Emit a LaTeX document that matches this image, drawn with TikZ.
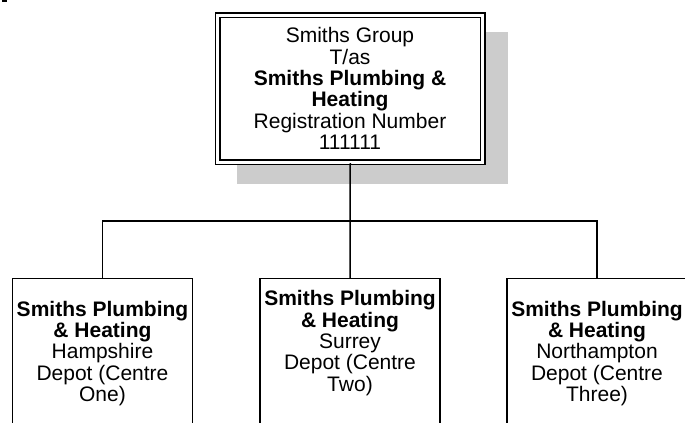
\documentclass[tikz,border=0pt]{standalone}
\usepackage{fontspec}
\setmainfont{Liberation Sans}
\definecolor{shadowgray}{HTML}{CCCCCC}
\begin{document}
\begin{tikzpicture}[x=0.75pt,y=-0.75pt,
  txt/.style={font=\fontsize{15.75}{16.05}\selectfont, align=center, inner sep=0pt},
  childbox/.style={draw, fill=white, line width=1.125pt, minimum width=135pt, minimum height=151.5pt, anchor=north, inner sep=0pt},
  conn/.style={line width=1.125pt}]
\useasboundingbox (0,0) rectangle (685,423);
% tiny mark at the top-left corner
\fill (2,0) rectangle (7,2);
% shadow and top box
\node[fill=shadowgray, minimum width=203.25pt, minimum height=114pt, inner sep=0pt] (shadow) at (372.5,108) {};
\node[draw, fill=white, double, line width=1.125pt, double distance=2.25pt, minimum width=198.75pt, minimum height=110.25pt, inner sep=0pt] (top) at (350.25,89) {};
\node[txt] (toptxt) at (350,88.5) {Smiths Group\\T/as\\\textbf{Smiths Plumbing \&}\\\textbf{Heating}\\Registration Number\\111111};
% child boxes
\node[childbox] (b1) at (102.5,278) {};
\node[childbox] (b2) at (350,278) {};
\node[childbox] (b3) at (597,278) {};
\node[txt] (t1) at (102.5,353.5) {\textbf{Smiths Plumbing}\\\textbf{\& Heating}\\Hampshire\\Depot (Centre\\One)};
\node[txt] (t2) at (350,343) {\textbf{Smiths Plumbing}\\\textbf{\& Heating}\\Surrey\\Depot (Centre\\Two)};
\node[txt] (t3) at (597,353.5) {\textbf{Smiths Plumbing}\\\textbf{\& Heating}\\Northampton\\Depot (Centre\\Three)};
% connectors
\coordinate (j) at (350,221);
\draw[conn] (top.south) -- (j) -- (b2.north);
\draw[conn] (b1.north) |- (j) -| (b3.north);
\end{tikzpicture}
\end{document}
